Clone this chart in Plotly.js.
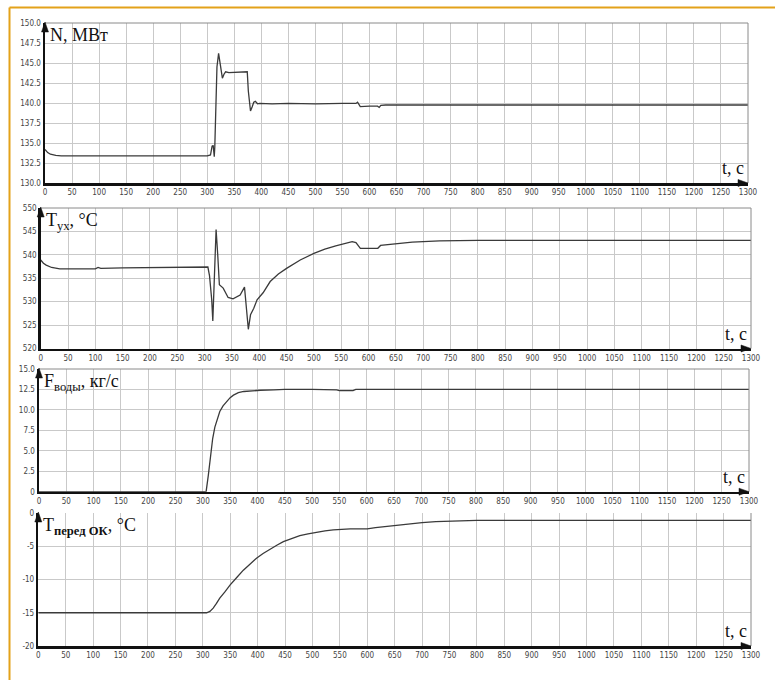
<!DOCTYPE html>
<html>
<head>
<meta charset="utf-8">
<script src="https://cdn.plot.ly/plotly-3.0.1.min.js"></script>
<style>html,body{margin:0;padding:0;background:#fff;}#chart{width:775px;height:680px;}</style>
</head>
<body>
<div id="chart"></div>
<script>
// ---- data ----
var tN = [0, 5, 10, 20, 30, 50, 100, 200, 300, 306, 309, 311, 313, 314, 316, 318, 321, 324, 328, 331, 334, 340, 360, 374, 376, 380, 383, 386, 389, 393, 397, 420, 450, 500, 550, 575, 578, 580, 583, 600, 615, 618, 621, 630, 700, 1300];
var valN = [134.2, 133.8, 133.6, 133.45, 133.4, 133.4, 133.4, 133.4, 133.4, 133.5, 134.6, 134.7, 133.3, 134.5, 139.5, 144.5, 146.2, 144.6, 143.1, 143.6, 143.9, 143.8, 143.9, 143.9, 141.5, 139.0, 139.5, 140.1, 140.2, 139.9, 139.95, 139.9, 139.95, 139.9, 139.95, 139.95, 140.1, 139.9, 139.55, 139.6, 139.6, 139.45, 139.7, 139.75, 139.75, 139.75];

var tT = [0, 5, 10, 20, 35, 50, 100, 105, 110, 150, 200, 250, 306, 309, 313, 315, 318, 321, 324, 327, 334, 343, 352, 365, 373, 377, 380, 384, 390, 396, 407, 420, 435, 450, 475, 500, 520, 540, 560, 570, 577, 585, 600, 617, 622, 630, 650, 680, 730, 800, 1300];
var valT = [538.9, 538.2, 537.8, 537.3, 537.0, 537.0, 537.0, 537.3, 537.1, 537.2, 537.3, 537.3, 537.4, 535.5, 530.4, 525.9, 536.0, 545.4, 540.0, 533.6, 532.9, 530.9, 530.6, 531.4, 533.1, 527.2, 524.1, 527.2, 528.6, 530.4, 531.9, 534.3, 535.9, 537.1, 538.9, 540.3, 541.2, 541.9, 542.6, 542.8, 542.6, 541.4, 541.4, 541.4, 542.0, 542.1, 542.4, 542.7, 543.0, 543.1, 543.1];

var tF = [0, 300, 306, 310, 314, 318, 322, 326, 331, 337, 344, 350, 356, 365, 375, 390, 405, 430, 450, 500, 545, 550, 575, 580, 600, 650, 1300];
var valF = [0, 0, 0, 2.0, 4.5, 6.5, 7.9, 8.9, 9.8, 10.5, 11.1, 11.5, 11.8, 12.1, 12.25, 12.35, 12.4, 12.45, 12.5, 12.5, 12.45, 12.35, 12.35, 12.5, 12.5, 12.5, 12.5];

var tOK = [0, 300, 307, 313, 319, 325, 331, 340, 350, 362, 374, 386, 398, 410, 423, 435, 447, 462, 477, 492, 508, 523, 538, 553, 569, 585, 600, 615, 630, 645, 660, 680, 700, 725, 750, 775, 800, 1300];
var valOK = [-15, -15, -15, -14.8, -14.3, -13.6, -12.8, -11.9, -10.8, -9.7, -8.6, -7.7, -6.8, -6.1, -5.4, -4.85, -4.3, -3.85, -3.4, -3.15, -2.9, -2.7, -2.55, -2.45, -2.4, -2.4, -2.4, -2.2, -2.05, -1.9, -1.8, -1.6, -1.45, -1.3, -1.2, -1.15, -1.1, -1.1];

var xTicks = [0,50,100,150,200,250,300,350,400,450,500,550,600,650,700,750,800,850,900,950,1000,1050,1100,1150,1200,1250,1300];
var yTicksN = [130, 132.5, 135, 137.5, 140, 142.5, 145, 147.5, 150];
var yTextN = ["130.0","132.5","135.0","137.5","140.0","142.5","145.0","147.5","150.0"];
var yTicksT = [520, 525, 530, 535, 540, 545, 550];
var yTextT = ["520","525","530","535","540","545","550"];
var yTicksF = [0, 2.5, 5, 7.5, 10, 12.5, 15];
var yTextF = ["0","2.5","5.0","7.5","10.0","12.5","15.0"];
var yTicksOK = [-20, -15, -10, -5, 0];
var yTextOK = ["-20","-15","-10","-5","0"];

var titles = ["N, МВт", "T<sub>ух</sub>, °C", "F<sub>воды</sub>, кг/с", "T<sub><b>перед ОК</b></sub>, °C"];
var xTitle = "t, с";

// ---- layout geometry (pixels) ----
var W = 775, H = 680;
var panels = [
  {x0: 45, x1: 748, y0: 23, y1: 183, yr: [130, 150], tv: yTicksN, tt: yTextN, top: true},
  {x0: 40.7, x1: 751, y0: 208, y1: 348.5, yr: [520, 550], tv: yTicksT, tt: yTextT, top: true},
  {x0: 39, x1: 749, y0: 369, y1: 491.7, yr: [0, 15], tv: yTicksF, tt: yTextF, top: true},
  {x0: 38.3, x1: 751, y0: 513, y1: 646, yr: [-20, 0], tv: yTicksOK, tt: yTextOK, top: false}
];
function px(x){return x / W;}
function py(y){return 1 - y / H;}
function P(x, y){return (x / W).toFixed(5) + "," + (1 - y / H).toFixed(5);}

var series = [[tN, valN], [tT, valT], [tF, valF], [tOK, valOK]];
var tickFont = {family: "Liberation Sans Narrow, DejaVu Sans Condensed, Arial Narrow, sans-serif", size: 8, color: "#444"};
var serif = "Liberation Serif, Times New Roman, DejaVu Serif, serif";
var gridColor = "#c9c9c9";

var data = [];
var layout = {
  width: W, height: H,
  margin: {l: 0, r: 0, t: 0, b: 0},
  paper_bgcolor: "#fff", plot_bgcolor: "#fff",
  showlegend: false,
  shapes: [], annotations: []
};

panels.forEach(function(p, i){
  var n = i + 1;
  var xa = "xaxis" + (n === 1 ? "" : n), ya = "yaxis" + (n === 1 ? "" : n);
  var xr = "x" + (n === 1 ? "" : n), yr = "y" + (n === 1 ? "" : n);
  data.push({
    type: "scatter", mode: "lines", x: series[i][0], y: series[i][1],
    xaxis: xr, yaxis: yr,
    line: {color: "#3a3a3a", width: 1.3}, hoverinfo: "skip"
  });
  layout[xa] = {
    domain: [px(p.x0), px(p.x1)], anchor: yr, range: [0, 1300],
    tickmode: "array", tickvals: xTicks, ticktext: xTicks.map(String),
    showgrid: true, gridcolor: gridColor, gridwidth: 1, zeroline: false,
    showline: true, linecolor: "#111", linewidth: 2.5,
    ticks: "", tickfont: tickFont, fixedrange: true
  };
  layout[ya] = {
    domain: [py(p.y1), py(p.y0)], anchor: xr, range: p.yr,
    tickmode: "array", tickvals: p.tv, ticktext: p.tt,
    showgrid: true, gridcolor: gridColor, gridwidth: 1, zeroline: false,
    showline: true, linecolor: "#111", linewidth: 2.5,
    ticks: "", tickfont: tickFont, fixedrange: true
  };
  // right border
  layout.shapes.push({type: "line", xref: "paper", yref: "paper",
    x0: px(p.x1), x1: px(p.x1), y0: py(p.y1), y1: py(p.y0),
    line: {color: "#8a8a8a", width: 1}});
  if (p.top) {
    layout.shapes.push({type: "line", xref: "paper", yref: "paper",
      x0: px(p.x0), x1: px(p.x1), y0: py(p.y0), y1: py(p.y0),
      line: {color: "#8a8a8a", width: 1}});
  }
  // arrowheads (triangles)
  var ax = p.x1, ay = p.y1;
  layout.shapes.push({type: "path", xref: "paper", yref: "paper",
    path: "M" + P(ax, ay) + " L" + P(ax - 10, ay - 3.5) + " L" + P(ax - 10, ay + 3.5) + " Z",
    fillcolor: "#111", line: {color: "#111", width: 0.5}});
  var bx = p.x0, by = p.y0;
  layout.shapes.push({type: "path", xref: "paper", yref: "paper",
    path: "M" + P(bx, by - 1) + " L" + P(bx - 3.5, by + 9) + " L" + P(bx + 3.5, by + 9) + " Z",
    fillcolor: "#111", line: {color: "#111", width: 0.5}});
  // title
  layout.annotations.push({xref: "paper", yref: "paper", x: px(p.x0 + 3), y: py(p.y0),
    xanchor: "left", yanchor: "top", text: titles[i], showarrow: false,
    font: {family: serif, size: 18, color: "#111"}});
  layout.annotations.push({xref: "paper", yref: "paper", x: px(p.x1 - 2), y: py(p.y1 - 3),
    xanchor: "right", yanchor: "bottom", text: xTitle, showarrow: false,
    font: {family: serif, size: 18, color: "#111"}});
});

// orange frame
layout.shapes.push({type: "line", xref: "paper", yref: "paper", x0: px(9.5), x1: 1, y0: py(7.5), y1: py(7.5), line: {color: "#e3a21a", width: 2}});
layout.shapes.push({type: "line", xref: "paper", yref: "paper", x0: px(9.5), x1: px(9.5), y0: py(7.5), y1: 0, line: {color: "#e3a21a", width: 2}});

Plotly.newPlot("chart", data, layout, {displayModeBar: false, staticPlot: true});
</script>
</body>
</html>
